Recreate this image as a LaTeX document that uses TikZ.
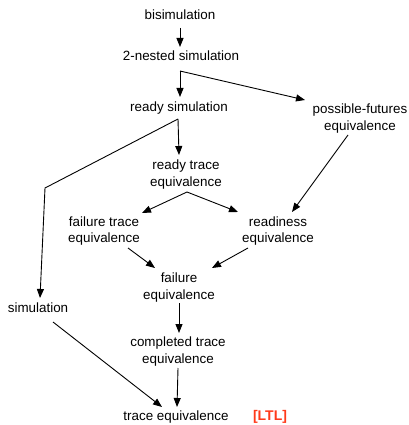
\documentclass[tikz,border=0pt]{standalone}
\usepackage{fontspec}
\setmainfont{Liberation Sans}
\usetikzlibrary{arrows.meta,calc}
\definecolor{ltlred}{HTML}{FF3A1A}
\begin{document}
\begin{tikzpicture}[x=1pt,y=-1pt,
  lbl/.style={anchor=base,inner sep=0pt,align=center,font=\fontsize{13.4}{16.7}\selectfont},
  arr/.style={line width=0.9pt,-{Triangle[length=9pt,width=7pt]}},
  ln/.style={line width=0.9pt}]
\useasboundingbox (0,0) rectangle (408,425);
% single-line nodes: base = baseline; two-line nodes: base = second baseline
\node[lbl] (bisim) at (180,19.5) {bisimulation};
\node[lbl] (nested) at (181,61) {2-nested simulation};
\node[lbl] (readysim) at (179,111.5) {ready simulation};
\node[lbl] (pf) at (360,130) {possible-futures\\equivalence};
\node[lbl] (rt) at (186,186) {ready trace\\equivalence};
\node[lbl] (ft) at (104,242.7) {failure trace\\equivalence};
\node[lbl] (rd) at (278,242.7) {readiness\\equivalence};
\node[lbl] (fail) at (179,299) {failure\\equivalence};
\node[lbl] (sim) at (38,312.3) {simulation};
\node[lbl] (ct) at (178,363.3) {completed trace\\equivalence};
\node[lbl] (tr) at (176,420) {trace equivalence};
\node[lbl,font=\fontsize{14}{16}\selectfont\bfseries,text=ltlred] (ltl) at (270,420) {[LTL]};
\coordinate (j1) at ($(nested.base)+(-1,10)$);
\coordinate (j2) at ($(readysim.base)+(-1,7.5)$);
\coordinate (bend) at (45,188);
\draw[arr] ($(bisim.base)+(0,8.5)$) -- ($(nested.base)+(-1,-14)$);
\draw[arr] (j1) -- ($(readysim.base)+(1,-14.5)$);
\draw[arr] (j1) -- ($(pf.base)+(-55,-30)$);
\draw[arr] (j2) -- ($(rt.base)+(-7,-31)$);
\draw[arr] (j2) -- (bend) -- ($(sim.base)+(2,-14.3)$);
\draw[arr] ($(pf.base)+(-12,5)$) -- ($(rd.base)+(14,-30.7)$);
\draw[arr] ($(rt.base)+(1,6)$) -- ($(ft.base)+(38,-29.7)$);
\draw[arr] ($(rt.base)+(1,6)$) -- ($(rd.base)+(-40,-30.7)$);
\draw[arr] ($(ft.base)+(24,5.3)$) -- ($(fail.base)+(-24,-31)$);
\draw[arr] ($(rd.base)+(-30,5.3)$) -- ($(fail.base)+(33,-31)$);
\draw[arr] ($(fail.base)+(0,4)$) -- ($(ct.base)+(1,-30.3)$);
\draw[arr] ($(ct.base)+(0,4.7)$) -- ($(tr.base)+(1,-13)$);
\draw[arr] ($(sim.base)+(15,9.7)$) -- ($(tr.base)+(-14,-13)$);
\end{tikzpicture}
\end{document}
